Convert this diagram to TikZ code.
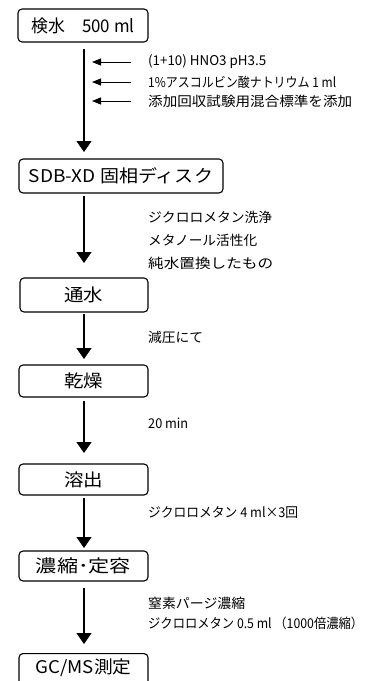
\documentclass[tikz,border=0pt]{standalone}
\usepackage{fontspec}
\usepackage{graphicx}
\setmainfont{Noto Sans CJK JP}
\usetikzlibrary{arrows.meta}
\newcommand{\fitw}[2]{\resizebox{#1}{\height}{#2}}
\begin{document}
\begin{tikzpicture}[x=1pt,y=-1pt,
  box/.style={draw,rounded corners=4pt,line width=1.1pt,inner sep=0pt,font=\fontsize{17.5}{20}\selectfont},
  flow/.style={line width=1.1pt,-{Triangle[length=11pt,width=15pt]}},
  side/.style={line width=0.9pt,-{Triangle[length=9pt,width=7pt]}},
  note/.style={anchor=west,inner sep=0pt,font=\fontsize{13.5}{15}\selectfont}]
\useasboundingbox (0,0) rectangle (368,681);
\begin{scope}
\clip (0,0) rectangle (368,681);
\node[box,minimum width=130pt,minimum height=33pt] (b1) at (83,25.5) {\fitw{103pt}{検水　500 ml}};
\node[box,minimum width=204pt,minimum height=34pt] (b2) at (121,176) {\fitw{184pt}{SDB-XD 固相ディスク}};
\node[box,minimum width=128pt,minimum height=34pt] (b3) at (84,295) {\fitw{39pt}{通水}};
\node[box,minimum width=129pt,minimum height=32pt] (b4) at (83.5,381) {\fitw{39pt}{乾燥}};
\node[box,minimum width=129pt,minimum height=31pt] (b5) at (83.5,479.5) {\fitw{39pt}{溶出}};
\node[box,minimum width=129pt,minimum height=30pt] (b6) at (83.5,566) {\fitw{95pt}{濃縮･定容}};
\node[box,minimum width=129pt,minimum height=37pt,anchor=north] (b7) at (83.5,653) {\raisebox{0pt}[0pt][0pt]{\raisebox{-1.5pt}{\fitw{96pt}{GC/MS測定}}}};
\end{scope}

\coordinate (a1s) at (84,49);  \coordinate (a1e) at (84,152);
\coordinate (a2s) at (84,196); \coordinate (a2e) at (84,263);
\coordinate (a3s) at (84,314); \coordinate (a3e) at (84,359);
\coordinate (a4s) at (84,401); \coordinate (a4e) at (84,453);
\coordinate (a5s) at (84,498); \coordinate (a5e) at (84,548);
\coordinate (a6s) at (84,588); \coordinate (a6e) at (84,644);
\draw[flow] (a1s) -- (a1e);
\draw[flow] (a2s) -- (a2e);
\draw[flow] (a3s) -- (a3e);
\draw[flow] (a4s) -- (a4e);
\draw[flow] (a5s) -- (a5e);
\draw[flow] (a6s) -- (a6e);

\node[note] (t1) at (148,62) {\fitw{118pt}{(1+10) HNO3 pH3.5}};
\node[note] (t2) at (148,82) {\fitw{188pt}{1\%アスコルビン酸ナトリウム 1 ml}};
\node[note] (t3) at (148,101) {\fitw{204pt}{添加回収試験用混合標準を添加}};
\coordinate (s1) at (131,62);  \coordinate (e1) at (92,62);
\coordinate (s2) at (131,82);  \coordinate (e2) at (92,82);
\coordinate (s3) at (131,101); \coordinate (e3) at (92,101);
\draw[side] (s1) -- (e1);
\draw[side] (s2) -- (e2);
\draw[side] (s3) -- (e3);

\node[note] (t4) at (148,217) {\fitw{124pt}{ジクロロメタン洗浄}};
\node[note] (t5) at (148,240) {\fitw{109pt}{メタノール活性化}};
\node[note] (t6) at (148,263) {\fitw{125pt}{純水置換したもの}};
\node[note] (t7) at (148,337) {\fitw{55pt}{減圧にて}};
\node[note] (t8) at (148,423) {\fitw{40pt}{20 min}};
\node[note] (t9) at (148,513) {\fitw{150pt}{ジクロロメタン 4 ml×3回}};
\node[note] (t10) at (148,603) {\fitw{97pt}{窒素パージ濃縮}};
\node[note] (t11) at (148,623) {\fitw{215pt}{ジクロロメタン 0.5 ml （1000倍濃縮）}};
\end{tikzpicture}
\end{document}
